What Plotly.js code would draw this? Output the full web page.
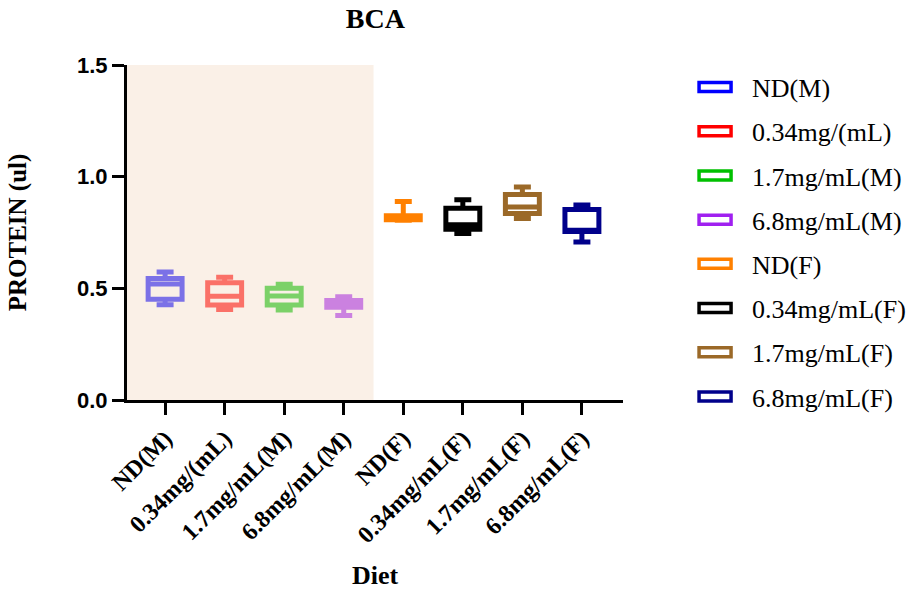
<!DOCTYPE html>
<html>
<head>
<meta charset="utf-8">
<script src="https://cdn.plot.ly/plotly-3.0.1.min.js"></script>
<style>html,body{margin:0;padding:0;background:#fff;}#chart{width:911px;height:590px;}</style>
</head>
<body>
<div id="chart"></div>
<script>
// ---- data ----
var categories = ['ND(M)', '0.34mg/(mL)', '1.7mg/mL(M)', '6.8mg/mL(M)', 'ND(F)', '0.34mg/mL(F)', '1.7mg/mL(F)', '6.8mg/mL(F)'];
var minVals = [0.427, 0.405, 0.403, 0.378, 0.805, 0.746, 0.813, 0.708];
var q1Vals  = [0.451, 0.425, 0.425, 0.415, 0.807, 0.765, 0.835, 0.755];
var medVals = [0.519, 0.465, 0.466, 0.430, 0.815, 0.785, 0.864, 0.760];
var q3Vals  = [0.544, 0.525, 0.500, 0.445, 0.825, 0.859, 0.920, 0.853];
var maxVals = [0.573, 0.550, 0.518, 0.462, 0.889, 0.897, 0.954, 0.873];
var colors  = ['#0000FF', '#FF0000', '#00C000', '#A020F0', '#FF8000', '#000000', '#9B6928', '#00008B'];
var yTicks  = [0, 0.5, 1.0, 1.5];

var serif = 'Liberation Serif, Times New Roman, serif';
var sans = 'Liberation Sans, Arial, sans-serif';

var positions = categories.map(function (c, i) { return i; });
var xRange = [-0.64, 7.69];

var traces = categories.map(function (name, i) {
  return {
    type: 'box',
    name: name,
    legendgroup: 'g' + i,
    x: [positions[i]],
    q1: [q1Vals[i]],
    median: [medVals[i]],
    q3: [q3Vals[i]],
    lowerfence: [minVals[i]],
    upperfence: [maxVals[i]],
    width: 0.57,
    whiskerwidth: 0.5,
    line: { color: colors[i], width: 5 },
    fillcolor: '#FFFFFF',
    boxpoints: false,
    hoverinfo: 'skip'
  };
});

var layout = {
  width: 911,
  height: 590,
  margin: { l: 127, r: 288, t: 65, b: 190, autoexpand: false },
  paper_bgcolor: '#FFFFFF',
  plot_bgcolor: '#FFFFFF',
  showlegend: true,
  title: {
    text: 'BCA',
    font: { family: serif, size: 28, color: '#000', weight: 'bold' },
    x: 0.412, xanchor: 'center', y: 0.97, yanchor: 'middle'
  },
  xaxis: {
    range: xRange,
    tickvals: positions,
    ticktext: categories,
    tickangle: -45,
    ticks: 'outside', ticklen: 12, tickwidth: 3, tickcolor: '#000',
    showline: true, linewidth: 3, linecolor: '#000',
    showgrid: false, zeroline: false,
    tickfont: { family: serif, size: 24, color: '#000', weight: 'bold' },
    title: { text: 'Diet', font: { family: serif, size: 26, color: '#000', weight: 'bold' }, standoff: 20 }
  },
  yaxis: {
    range: [0, 1.5],
    tickvals: yTicks,
    tickformat: '.1f',
    ticks: 'outside', ticklen: 12, tickwidth: 3, tickcolor: '#000',
    showline: true, linewidth: 3, linecolor: '#000',
    showgrid: false, zeroline: false,
    tickfont: { family: sans, size: 22, color: '#000', weight: 'bold' },
    title: { text: 'PROTEIN (ul)', font: { family: serif, size: 25, color: '#000', weight: 'bold' }, standoff: 44 }
  },
  legend: {
    x: 1.111, xanchor: 'left',
    y: 1.004, yanchor: 'top',
    traceorder: 'grouped',
    tracegroupgap: 7.4,
    itemwidth: 64,
    maxheight: 560,
    font: { family: serif, size: 26, color: '#000' },
    bgcolor: 'rgba(0,0,0,0)'
  },
  shapes: [{
    type: 'rect', xref: 'x', yref: 'y',
    x0: xRange[0], x1: 3.5, y0: 0, y1: 1.5,
    fillcolor: 'rgba(245,225,207,0.5)',
    line: { width: 0 },
    layer: 'above'
  }]
};

Plotly.newPlot('chart', traces, layout, { staticPlot: true }).then(function () {
  document.querySelectorAll('#chart .legendpoints path.legendbox').forEach(function (p) {
    p.setAttribute('d', 'M16,4.5H-16V-4.5H16Z');
    p.style.strokeWidth = '3.5px';
  });
});
</script>
</body>
</html>
